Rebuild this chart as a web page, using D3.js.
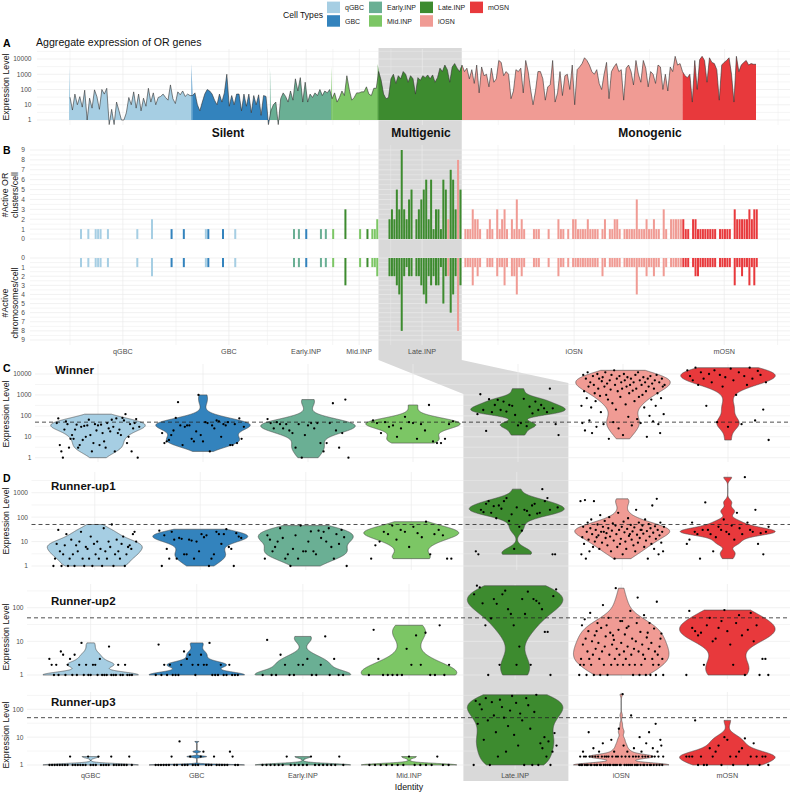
<!DOCTYPE html>
<html><head><meta charset="utf-8">
<script src="https://cdn.jsdelivr.net/npm/d3@7/dist/d3.min.js"></script>
<style>
html,body{margin:0;padding:0;background:#fff;}
svg{display:block;}
text{font-family:"Liberation Sans",Arial,Helvetica,sans-serif;}
</style></head><body>
<svg id="chart" width="792" height="793"></svg>
<script>
// ================= DATA =================
const cellTypes = ["qGBC","GBC","Early.INP","Mid.INP","Late.INP","iOSN","mOSN"];
const typeColors = ["#a6cee3","#3383bd","#6aaf94","#7cc665","#3d8b2f","#f09b94","#e8393c"];

// Panel A: aggregate OR expression per cell, per cell type (cells in order)
const aggQGBC = [31,4.5,50,10,34,7,90,1,27,6,95,33,5,100,50,120,0.5,5,0.5,15,4,1,1,3,30,10,70,6,50,4,27,8,120,15,60,10,30,35,50,30,20,200,25,12,70,45,80,35,50,40];
const aggGBC = [40,60,10,4,15,50,100,80,50,20,10,50,15,60,1000,8,40,10,50,50,4,50,8,50,3,40,10,45,2,40,35,0.5];
const aggEarly = [4,10,15,0.5,25,60,35,15,80,20,500,80,600,15,300,15,50,30,60,40,100,40,80,60,100];
const aggMid = [25,60,15,30,80,40,800,100,20,30,60,60,70,70,150,50,40,120,120];
const aggLate = [1500,400,50,25,30,500,1000,250,800,500,1500,1000,300,800,500,50,600,400,800,600,900,500,900,300,600,2500,1500,4000,2000,300,3000,5000,2500,1500];
const aggIOSN = [4000,1500,2500,500,2000,250,4000,60,3000,800,1000,150,2500,300,500,8000,6000,800,1500,1000,25,80,2000,1500,2500,60,8000,1500,100,10,80,1500,1500,500,20,150,200,8000,15,60,1500,40,800,1000,100,4000,10,2000,3000,5000,12000,8000,4000,1500,1000,2000,250,100,1000,6000,25,1500,3000,5000,1500,2000,20,2500,4000,1500,200,8000,1000,300,8000,2500,150,1500,1000,250,4000,3000,100,1000,80,3000,1500,15000,4000,5000];
const aggMOSN = [1500,800,600,1000,15,8000,100,9000,15000,8000,300,12000,6000,5000,2000,20,4000,6000,8000,12000,1000,15,15000,1500,4000,6000,8000,4000,5000,4500,4500];
const aggStartSpike = [3000,4500,3600,3600,5000,null,null];
const exprTicksA = [1,10,100,1000,10000];

// Panel B: per-cell counts (only non-zero cells), colour index into cellTypes
const bCell = [4,7,10,11,12,15,27,33,41,46,55,56,62,67,91,93,96,102,104,107,112,118,121,123,124,125,
 130,131,132,133,134,135,136,137,138,139,141,142,143,144,145,146,147,148,149,150,151,152,153,154,155,156,157,158,159,
 161,162,163,164,165,166,167,170,171,172,174,175,176,177,178,180,181,182,183,184,185,189,190,191,195,199,200,201,203,
 205,206,207,208,209,210,211,212,213,214,215,217,218,220,221,222,223,224,226,227,228,229,230,231,232,233,234,235,236,237,238,239,240,242,243,245,246,247,248,249,
 250,251,252,254,255,256,257,258,259,260,261,262,263,265,266,267,268,269,271,272,273,274,275,276,277,278,279,280];
const bClusters = [1,1,1,1,1,1,1,2,1,1,1,1,1,1,1,1,1,1,1,1,3,1,1,1,1,2,
 2,3,2,5,3,9,3,2,4,5,2,3,4,5,6,2,6,1,3,3,1,6,5,2,7,6,3,8,5,
 1,1,1,3,2,2,1,1,2,1,3,1,2,3,1,2,1,4,1,2,1,1,1,1,1,2,1,1,1,
 2,2,1,1,1,1,2,1,1,1,1,1,2,1,1,2,2,1,1,1,1,1,1,4,1,1,1,2,1,1,2,1,1,3,1,2,2,2,2,2,
 2,1,1,2,2,1,1,1,1,1,1,1,1,1,1,1,1,1,3,2,2,2,2,2,3,2,3,3];
const bChromosomes = [1,1,1,1,1,1,1,2,1,1,1,1,1,1,1,1,1,1,1,1,3,1,1,1,1,2,
 2,2,2,3,4,8,2,1,2,2,2,2,3,4,5,2,3,2,3,3,1,5,2,2,6,4,2,8,3,
 1,1,1,3,1,2,1,1,1,1,2,1,1,3,1,2,2,4,1,2,1,1,1,1,1,2,1,1,1,
 1,1,1,1,1,1,1,1,1,1,1,2,1,1,1,1,1,1,1,1,1,1,1,4,1,1,1,2,1,1,2,1,1,2,1,1,1,1,1,1,
 1,1,1,1,2,2,1,1,1,1,1,1,1,1,1,1,1,1,3,1,1,2,1,1,3,1,3,1];
const bTypeIdx = [0,0,0,0,0,0,0,0,1,1,0,1,1,0,2,2,1,2,2,3,4,3,4,3,3,3,
 4,4,4,4,4,4,4,4,4,4,4,4,4,4,4,4,4,4,4,4,4,4,4,5,4,4,4,5,4,
 5,5,5,5,5,5,5,5,5,5,5,5,5,5,5,5,5,5,5,5,5,5,5,5,5,5,5,5,5,
 5,5,5,5,5,5,5,5,5,5,5,5,5,5,5,5,5,5,5,5,5,5,5,5,5,5,5,5,5,5,5,5,5,5,5,5,5,5,5,5,
 6,6,6,6,6,6,6,6,6,6,6,6,6,6,6,6,6,6,6,6,6,6,6,6,6,6,6,6];
const bTickCells = [21.6,64.9,96.4,118.1,143.8,205.9,267.2];
const bMinorCells = [0,43.3,80.6,107.3,131,174.8,236.5,289];
const countTicks = [0,1,2,3,4,5,6,7,8,9];

// Panels C/D: expression of winner / runner-up ORs per cell (points read left to right)
const winnerQGBC = [45,75,4,2,1,22,55,40,3,8,12,8,22,38,3,4,30,7,33,10,35,65,12,2,5,40,20,35,4,38,15,6,3,45,25,18,65,30,2,75,15,22,12,80,60,120,5,10,40,2,25,45,70,1,30];
const winnerGBC = [15,5,6,7,12,20,80,450,35,4,30,35,35,8,6,18,1000,12,6,50,45,2,35,25,60,55,10,40,35,50,4,4,40,5,75,8,30];
const winnerEarly = [70,45,25,50,40,25,40,20,15,3,40,1,12,35,45,25,45,5,2,5,45,400,20,3,15,600,1];
const winnerMid = [60,45,15,50,30,35,10,25,90,50,45,8,40,20,330,6,5,5,8,40,55];
const winnerLate = [120,1080,190,19,620,150,330,580,190,480,160,330,300,110,35,45,650,32,275,130,480,190,330,230,150,2000,230,40,12];
const winnerIOSN = [300,45,9000,1500,20,6000,700,12000,2500,60,4000,250,15,8000,3000,1200,500,30,10000,2000,6000,900,150,4500,7000,40,2500,12000,1000,3500,600,8,5000,1800,9000,400,50,15000,3000,200,6000,1500,25,8000,800,4000,2000,12,10000,5000,350,2500,7000,90,1200,3000,6000,35,1600,4000,500,9000,2000,70,12000,800,5000,45,3000,1000,7000,250,4000,1500,10,6000,2500,100,8000,600,3500,55,2000,5000,300,9000,1200,40,4000,15,700,6000,2500,120,3000];
const winnerMOSN = [15000,8000,5000,20000,3000,12000,6000,300,10000,4000,15000,50,9000,2500,7000,30,18000,5000,1000,12000,40,8000,3000,20000,6000,60,14000,9000,200,4000,7];

const runner1QGBC = [1,2,8,30,4,1,3,7,20,1,2,12,3,1,7,4,10,25,2,1,6,5,2,16,1,8,3,10,2,5,1,35,4,2,10,6,50,1,3,12,4,2,8,16,1,3,6,7,5,20,25,10];
const runner1GBC = [28,1,18,5,2,25,12,2,14,13,3,3,12,11,2,10,4,20,15,18,1,2,3,25,20,8,20,32,6,5,1,22,16,14];
const runner1Early = [2,18,12,4,6,10,35,14,2,3,1,5,18,2,45,4,4,10,26,4,3,28,14,25,10,35,6,2,20,8,30,15,1];
const runner1Mid = [2,7,10,25,20,45,12,30,25,6,40,22,15,65,3,20,30,18,2,2];
const runner1Late = [4,3,200,160,350,450,150,280,90,300,220,450,600,70,130,5,250,40,28,200,180,120,300,350,140,150,1400,450,600,200,3,3,250];
const runner1IOSN = [450,3,15,40,8,500,2,25,60,12,4,35,80,20,6,450,10,30,15,50,18,5,120,25,9,40,25,70,14,22,7,35,100,16,4,28,55,11,2,45,20,6,150,30,8,13,40,3,65,24,10,5,33,90,17,20,48,12,26,7,38,4,200,19,9,60,14,30,30,45,21,6,80,11,27,2,52,16,35,8,300,23,5,42,13,560,30,3,18,60,9,25,4,40];
const runner1MOSN = [8,12,60,25,20,2,30,400,30,20,4,15,40,30,80,25,20,45,12,150,35,20,4300,60,30,25,200,8,22,3,25,40];

const runner2QGBC = [3,2,1,2,1,5,4,1,2,3,1,4,1,2,9,1,2,1,1,2,2,1,3,1,1,1,7,1,1,1,2,1,1,2,1,1,1];
const runner2GBC = [1,8,1,2,1,2,1,1,1,2,5,3,4,2,1,2,4,2,2,9,1,1,1,2,1,1,2,1,1,1];
const runner2Early = [1,11,1,1,4,2,1,1,2,2,3,1,1,2,14,1,3,1,1];
const runner2Mid = [1,22,3,1,1,1,1,1,6,2,15,2,18,1,1,30,1,2];
const runner2Late = [250,450,400,135,30,1,48,180,130,2,250,320,90,65,30,2,7,180,65,300,2,180,160,135,90,19,19,1,220,350];
const runner2IOSN = [1,2,3,30,8,2,45,12,1,5,20,3,70,2,10,4,1,15,6,20,35,9,3,1,25,5,120,2,7,14,30,1,50,4,18,2,8,15,11,3,380,6,2,22,4,40,9,40,2,5,16,3,25,7,28,2,80,4,12,1,6,2,10,35,200,5,1,19,2,8,4,60,3,1,13,18,6,35,1,9,3,2,24,5,1,150,4,2,7,12,17,3,1];
const runner2MOSN = [1,80,25,20,15,18,2,30,50,10,12,25,40,85,20,8,2,35,60,15,1,22,70,10,30,1,3,3,1];

const runner3QGBC = [1,1,1,1,1,1,1,1,2,1,1,1,1,1,1,2,1,1,1,2,1,1,1,1,2,1,1,1,1,1,1,2,1];
const runner3GBC = [1,1,1,1,1,1,2,1,1,7,1,1,1,2,1,1,1,2,3,1,1,1,2,1,1,1,1,1,3,2,1,1];
const runner3Early = [1,1,1,1,1,1,2,1,1,1,1,1,2,1,1,1,1,1,1,2,1];
const runner3Mid = [1,1,1,1,1,1,1,2,1,1,1,1,2,1,1];
const runner3Late = [1,200,30,150,100,8,250,40,1,180,60,15,2,220,120,50,3,25,90,300,12,170,5,70,40,1,250,140,20,1,80,330,1,6,4,10,2,7,1,3,14,5];
const runner3IOSN = [1,2,1,1,3,2,1,2,1,1,15,2,1,1,2,4,1,2,1,1,2,3,1,1,2,6,1,2,1,2,1,2,1,1,8,2,1,3,1,2,1,2,20,1,1,2,350,5,1,2,1,3,1,2,1,60,1,2,4,1,2,1,1,2,10,1,3,2,1,1,2,6,1,2,15,1,1,2,4,1,2,30,1,3,2,1,8,5,1,2];
const runner3MOSN = [2,2,2,40,1,2,1,1,4,2,3,5,1,10,8,2,1,2,3,4,9,1,2,6,2,1,2,2,1];

const winnerThreshold = 50;

// ================= DRAW =================
const svg = d3.select("#chart");
const gGray = svg.append("g"), gGrid = svg.append("g"), gMark = svg.append("g"), gText = svg.append("g");
const GRID = "#ebebeb", TICK = "#4d4d4d";

const aggGroups = [aggQGBC,aggGBC,aggEarly,aggMid,aggLate,aggIOSN,aggMOSN];
const groupStarts = [];
let acc = 0; aggGroups.forEach(g => { groupStarts.push(acc); acc += g.length; });
const NCELLS = acc;
const aggAll = aggGroups.flat();

// ---- Legend ----
const leg = gText.append("g");
leg.append("text").attr("x",283).attr("y",18).attr("font-size",8.6).attr("fill","#111").text("Cell Types");
const legCols = [327,369,420,470];
cellTypes.forEach((t,i) => {
  const col = Math.floor(i/2), row = i%2;
  const x0 = legCols[col], y0 = row ? 15.2 : 1.6;
  leg.append("rect").attr("x",x0).attr("y",y0).attr("width",13).attr("height",11.5).attr("fill",typeColors[i]);
  leg.append("text").attr("x",x0+18).attr("y",y0+8.4).attr("font-size",7).attr("fill","#222").text(t);
});

// ---- Scales ----
const xA = d3.scaleLinear().domain([0, NCELLS-1]).range([70, 756]);
const yA = d3.scaleLog().domain([1, 10000]).range([120, 59]);
const xB = d3.scaleLinear().domain([0, NCELLS]).range([70, 758]);
const lateIdx = 4;
const lateStart = groupStarts[lateIdx], lateEnd = groupStarts[lateIdx+1];

// violin panel configuration (layout)
const vPanels = [
  {title:"Winner", letter:"C", data:[winnerQGBC,winnerGBC,winnerEarly,winnerMid,winnerLate,winnerIOSN,winnerMOSN], left:35, yDom:[1,10000], yRng:[457.7,374], top:364, bottom:462, ticks:[1,10,100,1000,10000], titleX:55, titleY:374, letterY:372, axisY:414},
  {title:"Runner-up1", letter:"D", data:[runner1QGBC,runner1GBC,runner1Early,runner1Mid,runner1Late,runner1IOSN,runner1MOSN], left:31.5, yDom:[1,1000], yRng:[566,492.7], top:472, bottom:570, ticks:[1,10,100,1000], titleX:51, titleY:490, letterY:482, axisY:521},
  {title:"Runner-up2", letter:null, data:[runner2QGBC,runner2GBC,runner2Early,runner2Mid,runner2Late,runner2IOSN,runner2MOSN], left:27, yDom:[1,100], yRng:[675,607.7], top:584, bottom:679, ticks:[1,10,100], titleX:51, titleY:605, axisY:637},
  {title:"Runner-up3", letter:null, data:[runner3QGBC,runner3GBC,runner3Early,runner3Mid,runner3Late,runner3IOSN,runner3MOSN], left:27, yDom:[1,100], yRng:[765,709.3], top:692, bottom:769, ticks:[1,10,100], titleX:51, titleY:706, axisY:735, showX:true}
];
const RIGHT = 791;
vPanels.forEach(p => {
  p.x = d3.scalePoint().domain(cellTypes).range([p.left, RIGHT]).padding(0.6);
  p.y = d3.scaleLog().domain(p.yDom).range(p.yRng);
});

// ---- Gray highlight ----
{
  const pc = vPanels[0];
  const cx = pc.x(cellTypes[lateIdx]), st = pc.x.step();
  const L1 = xB(lateStart), R1 = xB(lateEnd);
  const L2 = cx - 0.52*st, R2 = cx + 0.48*st;
  const pts = [[L1,48],[R1,48],[R1,360],[R2,383],[R2,781],[L2,781],[L2,394],[L1,360]];
  gGray.append("path").attr("d", d3.line()(pts)).attr("fill","#d9d9d9");
}

// ---- Panel A ----
for (let k = 0; k <= 4.5; k += 0.5) {
  const yy = yA(Math.pow(10,k));
  gGrid.append("line").attr("x1",37).attr("x2",790).attr("y1",yy).attr("y2",yy).attr("stroke",GRID).attr("stroke-width", k%1===0?0.7:0.5);
}
bTickCells.concat(bMinorCells).forEach((c,i) => {
  const xx = xA(c);
  if (xx < 37 || xx > 790) return;
  gGrid.append("line").attr("x1",xx).attr("x2",xx).attr("y1",49).attr("y2",125).attr("stroke",GRID).attr("stroke-width", i < bTickCells.length ? 0.7 : 0.5);
});
const areaA = d3.area().x(d => xA(d.i)).y0(yA(1)).y1(d => yA(d.v));
aggGroups.forEach((g,gi) => {
  const s = groupStarts[gi];
  const pts = g.map((v,k) => ({i: s+k, v}));
  if (gi < aggGroups.length-1) pts.push({i: s+g.length, v: aggAll[s+g.length]});
  gMark.append("path").attr("d", areaA(pts)).attr("fill", typeColors[gi]);
});
aggGroups.forEach((g,gi) => {
  const sp = aggStartSpike[gi];
  if (sp == null) return;
  const s = groupStarts[gi];
  const pts = [{i: s-0.4, v: sp}, {i: s, v: Math.max(1, g[0])}];
  gMark.append("path").attr("d", areaA(pts)).attr("fill", typeColors[gi]);
});
gMark.append("path").attr("d", d3.line().x((v,i)=>xA(i)).y(v=>yA(v))(aggAll))
  .attr("fill","none").attr("stroke","#333").attr("stroke-width",0.6);
exprTicksA.forEach(t => gText.append("text").attr("x",31.5).attr("y",yA(t)+2.4).attr("text-anchor","end").attr("font-size",6.6).attr("fill",TICK).text(t));
gText.append("text").attr("transform","translate(8.8,87) rotate(-90)").attr("text-anchor","middle").attr("font-size",8.8).attr("fill","#111").text("Expression Level");
gText.append("text").attr("x",3).attr("y",47).attr("font-size",10.5).attr("font-weight","bold").text("A");
gText.append("text").attr("x",36).attr("y",46).attr("font-size",10.6).attr("fill","#111").text("Aggregate expression of OR genes");
[["Silent",228],["Multigenic",421],["Monogenic",650]].forEach(([t,x]) =>
  gText.append("text").attr("x",x).attr("y",137).attr("text-anchor","middle").attr("font-size",12).attr("font-weight","bold").attr("fill","#111").text(t));

// ---- Panel B ----
const yBt = d3.scaleLinear().domain([0,9]).range([239,150]);
const yBb = d3.scaleLinear().domain([0,9]).range([258,340]);
for (let k = 0; k <= 9.0001; k += 0.5) {
  [yBt(k), yBb(k)].forEach(yy => gGrid.append("line").attr("x1",30).attr("x2",790).attr("y1",yy).attr("y2",yy).attr("stroke",GRID).attr("stroke-width", k%1===0?0.7:0.5));
}
bTickCells.concat(bMinorCells).forEach((c,i) => {
  const xx = xB(c);
  if (xx < 30 || xx > 790) return;
  gGrid.append("line").attr("x1",xx).attr("x2",xx).attr("y1",145).attr("y2",345).attr("stroke",GRID).attr("stroke-width", i < bTickCells.length ? 0.7 : 0.5);
});
const nB = Math.min(bCell.length, bClusters.length, bChromosomes.length, bTypeIdx.length);
for (let k = 0; k < nB; k++) {
  const c = bCell[k], x0 = xB(c)+0.2, w = Math.max(0.6, xB(c+1)-xB(c)-0.45);
  const col = typeColors[bTypeIdx[k]];
  if (bClusters[k] > 0) gMark.append("rect").attr("x",x0).attr("width",w).attr("y",yBt(bClusters[k])).attr("height",yBt(0)-yBt(bClusters[k])).attr("fill",col);
  if (bChromosomes[k] > 0) gMark.append("rect").attr("x",x0).attr("width",w).attr("y",yBb(0)).attr("height",yBb(bChromosomes[k])-yBb(0)).attr("fill",col);
}
countTicks.forEach(t => {
  gText.append("text").attr("x",25).attr("y",yBt(t)+2.4).attr("text-anchor","end").attr("font-size",6.6).attr("fill",TICK).text(t);
  gText.append("text").attr("x",25).attr("y",yBb(t)+2.4).attr("text-anchor","end").attr("font-size",6.6).attr("fill",TICK).text(t);
});
bTickCells.forEach((c,i) => gText.append("text").attr("x",xB(c)).attr("y",354).attr("text-anchor","middle").attr("font-size",7.2).attr("fill",TICK).text(cellTypes[i]));
function twoLine(x, y, l1, l2) {
  const t = gText.append("text").attr("transform",`translate(${x},${y}) rotate(-90)`).attr("text-anchor","middle").attr("font-size",8.8).attr("fill","#111");
  t.append("tspan").attr("x",0).attr("dy",0).text(l1);
  t.append("tspan").attr("x",0).attr("dy",9.6).text(l2);
}
twoLine(8.4, 195, "#Active OR", "clusters/cell");
twoLine(8.4, 303, "#Active", "chromosomes/cell");
gText.append("text").attr("x",3).attr("y",154).attr("font-size",10.5).attr("font-weight","bold").text("B");

// ---- Violin panels (gaussian KDE in log10 space, trimmed, width-scaled) ----
function violinShape(vals) {
  const lv = vals.map(v => Math.log10(v));
  const n = lv.length;
  const sorted = lv.slice().sort((a,b)=>a-b);
  const sd = d3.deviation(lv) || 0;
  const iqr = d3.quantile(sorted,0.75) - d3.quantile(sorted,0.25);
  let lo = Math.min(sd, iqr/1.34);
  if (!lo) lo = sd || Math.abs(sorted[0]) || 1;
  const bw = 0.9*lo*Math.pow(n,-0.2);
  const mn = sorted[0], mx = sorted[n-1];
  const M = 512, pts = [];
  for (let k = 0; k < M; k++) {
    const t = mn + (mx-mn)*k/(M-1);
    let s = 0;
    for (const x of lv) { const z = (t-x)/bw; s += Math.exp(-0.5*z*z); }
    pts.push({t, d:s});
  }
  const dmax = d3.max(pts, p => p.d);
  pts.forEach(p => p.w = p.d/dmax);
  return pts;
}

vPanels.forEach(p => {
  const x = p.x, y = p.y, st = x.step();
  const hiL = Math.log10(y.invert(p.top)), loL = Math.log10(y.invert(p.bottom));
  for (let k = Math.ceil(loL*2)/2; k <= hiL+0.02; k += 0.5) {
    const yy = y(Math.pow(10,k));
    gGrid.append("line").attr("x1",p.left).attr("x2",790).attr("y1",yy).attr("y2",yy).attr("stroke",GRID).attr("stroke-width", Math.abs(k%1)<1e-9?0.7:0.5);
  }
  cellTypes.forEach(t => gGrid.append("line").attr("x1",x(t)).attr("x2",x(t)).attr("y1",p.top).attr("y2",p.bottom).attr("stroke",GRID).attr("stroke-width",0.7));
  p.data.forEach((vals, gi) => {
    const cx = x(cellTypes[gi]), hw = 0.45*st;
    const shape = violinShape(vals);
    const ar = d3.area().y(d => y(Math.pow(10,d.t))).x0(d => cx - hw*d.w).x1(d => cx + hw*d.w);
    gMark.append("path").attr("d", ar(shape)).attr("fill", typeColors[gi]).attr("stroke","#4a4a4a").attr("stroke-width",0.6);
  });
  gMark.append("line").attr("x1",p.left).attr("x2",790).attr("y1",y(winnerThreshold)).attr("y2",y(winnerThreshold))
    .attr("stroke","#222").attr("stroke-width",0.8).attr("stroke-dasharray","4,3");
  p.data.forEach((vals, gi) => {
    const cx = x(cellTypes[gi]), n = vals.length;
    vals.forEach((v,i) => {
      const off = (-0.4 + 0.8*(i+0.5)/n)*st;
      gMark.append("circle").attr("cx",cx+off).attr("cy",y(v)).attr("r",1.15).attr("fill","#000");
    });
  });
  p.ticks.forEach(t => gText.append("text").attr("x",p.left-3.5).attr("y",y(t)+2.4).attr("text-anchor","end").attr("font-size",6.6).attr("fill",TICK).text(t));
  gText.append("text").attr("transform",`translate(8.8,${p.axisY}) rotate(-90)`).attr("text-anchor","middle").attr("font-size",8.8).attr("fill","#111").text("Expression Level");
  gText.append("text").attr("x",p.titleX).attr("y",p.titleY).attr("font-size",11.5).attr("font-weight","bold").attr("fill","#111").text(p.title);
  if (p.letter) gText.append("text").attr("x",3).attr("y",p.letterY).attr("font-size",10.5).attr("font-weight","bold").text(p.letter);
  if (p.showX) {
    cellTypes.forEach(t => gText.append("text").attr("x",x(t)).attr("y",778).attr("text-anchor","middle").attr("font-size",7.2).attr("fill",TICK).text(t));
    gText.append("text").attr("x",(p.left+RIGHT)/2).attr("y",790).attr("text-anchor","middle").attr("font-size",8.8).attr("fill","#111").text("Identity");
  }
});
</script>
</body></html>
